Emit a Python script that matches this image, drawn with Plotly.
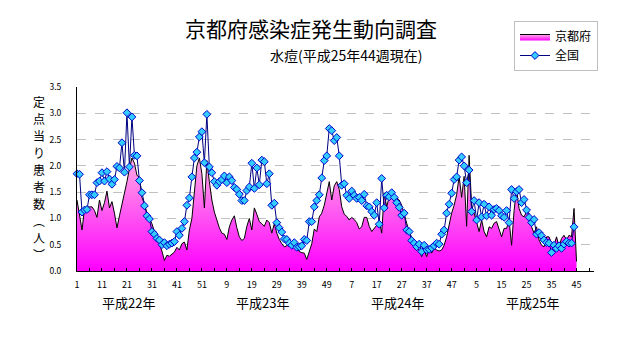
import numpy as np
import plotly.graph_objects as go

# ---- data (weekly per-sentinel counts) ----
year_labels = ["平成22年", "平成23年", "平成24年", "平成25年"]
x_tick_labels = ["1", "11", "21", "31", "41", "51", "9", "19", "29", "39", "49",
                 "7", "17", "27", "37", "47", "5", "15", "25", "35", "45"]
y_title_chars = list("定点当り患者数︵人︶")

kyoto_h22 = [1.35, 1.05, 0.78, 1.18, 1.22, 1.22, 1.22, 1.15, 1.02, 1.35,
             1.15, 1.30, 1.52, 1.20, 1.32, 1.10, 0.82, 1.05, 1.25, 1.45,
             1.70, 1.95, 2.15, 2.05, 1.82, 1.78, 1.40, 1.28, 1.10, 1.00,
             0.90, 0.75, 0.62, 0.50, 0.38, 0.20, 0.30, 0.28, 0.32, 0.36,
             0.45, 0.40, 0.52, 0.55, 0.40, 0.78, 1.00, 1.55, 2.00, 2.15,
             1.85, 1.20]
kyoto_h23 = [2.10, 1.70, 1.35, 1.12, 0.95, 0.82, 0.72, 0.70, 0.60, 0.84,
             0.97, 1.05, 0.82, 0.65, 0.58, 0.62, 0.85, 1.00, 0.78, 1.20,
             1.08, 0.94, 0.90, 0.85, 0.97, 0.92, 0.72, 0.90, 0.72, 0.60,
             0.52, 0.46, 0.48, 0.55, 0.52, 0.45, 0.42, 0.37, 0.35, 0.34,
             0.22, 0.36, 0.52, 0.80, 0.75, 1.03, 1.10, 1.25, 1.45, 1.70,
             1.35, 1.62]
kyoto_h24 = [1.70, 1.55, 1.22, 1.08, 1.04, 0.97, 1.02, 0.98, 0.92, 0.80,
             0.84, 1.02, 1.02, 0.85, 0.75, 0.82, 0.87, 0.97, 0.72, 1.48,
             1.22, 1.41, 1.38, 1.44, 1.40, 1.35, 1.25, 1.10, 0.91, 0.75,
             0.62, 0.53, 0.45, 0.40, 0.27, 0.40, 0.27, 0.43, 0.34, 0.43,
             0.40, 0.38, 0.40, 0.49, 0.65, 0.91, 1.10, 1.25, 1.45, 1.80,
             1.40, 1.80]
kyoto_h25 = [0.85, 2.20, 1.25, 1.10, 0.91, 0.75, 0.97, 0.75, 0.65, 0.84,
             0.81, 0.91, 0.94, 0.81, 0.65, 0.81, 0.81, 0.97, 0.49, 1.15,
             1.55, 1.19, 1.06, 1.03, 1.13, 1.10, 0.84, 0.72, 0.84, 0.59,
             0.49, 0.46, 0.65, 0.65, 0.53, 0.49, 0.65, 0.46, 0.62, 0.68,
             0.59, 0.68, 0.65, 1.19, 0.18]

national_h22 = [1.85, 1.84, 1.12, 1.16, 1.17, 1.45, 1.45, 1.45, 1.68, 1.71,
                1.87, 1.71, 1.89, 1.75, 1.65, 1.74, 1.99, 1.96, 2.44, 1.88,
                3.01, 1.98, 2.93, 2.20, 2.19, 1.72, 1.49, 1.24, 1.05, 0.99,
                0.75, 0.70, 0.62, 0.59, 0.50, 0.54, 0.48, 0.51, 0.53, 0.56,
                0.75, 0.68, 0.81, 0.94, 1.25, 1.39, 1.79, 2.15, 2.26, 2.55,
                2.65, 2.06]
national_h23 = [2.98, 1.98, 1.87, 1.70, 1.63, 1.70, 1.74, 1.81, 1.68, 1.79,
                1.72, 1.59, 1.55, 1.46, 1.34, 1.34, 1.53, 1.60, 2.05, 1.57,
                1.96, 1.64, 2.11, 2.08, 1.66, 1.85, 1.25, 1.29, 0.92, 0.82,
                0.74, 0.61, 0.60, 0.53, 0.49, 0.54, 0.45, 0.46, 0.48, 0.60,
                0.58, 0.94, 0.94, 1.22, 1.34, 1.45, 1.77, 2.10, 2.19, 2.71,
                2.67, 2.48]
national_h24 = [2.54, 2.19, 1.63, 1.66, 1.44, 1.38, 1.52, 1.44, 1.38, 1.40,
                1.34, 1.46, 1.24, 1.22, 1.13, 1.06, 1.30, 0.89, 1.76, 1.20,
                1.44, 1.41, 1.49, 1.40, 1.30, 1.21, 1.06, 1.10, 0.78, 0.75,
                0.58, 0.53, 0.46, 0.51, 0.37, 0.49, 0.40, 0.41, 0.44, 0.48,
                0.53, 0.51, 0.70, 0.78, 1.10, 1.27, 1.48, 1.74, 1.79, 2.11,
                2.17, 2.00]
national_h25 = [1.68, 1.92, 1.13, 1.34, 0.97, 1.30, 1.03, 1.27, 1.05, 1.22,
                1.06, 1.17, 1.19, 1.15, 1.05, 1.02, 1.15, 0.92, 1.55, 1.38,
                1.51, 1.55, 1.30, 1.36, 1.16, 1.02, 0.92, 0.98, 0.70, 0.73,
                0.67, 0.59, 0.54, 0.53, 0.35, 0.49, 0.43, 0.48, 0.43, 0.51,
                0.56, 0.53, 0.53, 0.84]

weeks_per_year = 52
n_years = 4

kyoto = np.array(kyoto_h22 + kyoto_h23 + kyoto_h24 + kyoto_h25)
national = np.array(national_h22 + national_h23 + national_h24 + national_h25)
x_k = np.arange(1, len(kyoto) + 1)
x_n = np.arange(1, len(national) + 1)

FONT = "Noto Sans CJK JP"

fig = go.Figure()
fig.add_trace(go.Scatter(
    x=x_k, y=kyoto, name="京都府", mode="lines",
    line=dict(color="black", width=1),
    fill="tozeroy", fillcolor="#FF88E4",
    fillgradient=dict(type="vertical", start=0, stop=2.2,
                      colorscale=[[0, "#FF00FF"], [1, "#FFB0E4"]]),
))
fig.add_trace(go.Scatter(
    x=x_n, y=national, name="全国", mode="lines+markers",
    line=dict(color="#000080", width=1),
    marker=dict(symbol="diamond", size=6, color="#33CCFF",
                line=dict(color="#0000CC", width=1)),
    cliponaxis=False,
))

tickvals = list(range(1, weeks_per_year * n_years + 1, 10))[:len(x_tick_labels)]

L, R, T, B = 77, 38, 87, 77
W, H = 632, 348
pw, ph = W - L - R, H - T - B


def px(xp):
    return (xp - L) / pw


def py(yp):
    return (H - B - yp) / ph


year_pos = [21.8, 75.1, 129.3, 183.3]

annotations = [
    dict(text="京都府感染症発生動向調査", x=px(311), y=py(28), xref="paper", yref="paper",
         xanchor="center", yanchor="middle",
         showarrow=False, font=dict(size=21, color="black", family=FONT)),
    dict(text="水痘(平成25年44週現在)", x=px(346), y=py(55), xref="paper", yref="paper",
         xanchor="center", yanchor="middle",
         showarrow=False, font=dict(size=14, color="black", family=FONT)),
]
for k, ch in enumerate(y_title_chars):
    annotations.append(dict(text=ch, x=px(39), y=py(101 + 17 * k), xref="paper", yref="paper",
                            xanchor="center", yanchor="middle", showarrow=False,
                            font=dict(size=12, color="black", family=FONT)))
for lbl, xp in zip(year_labels, year_pos):
    annotations.append(dict(text=lbl, x=xp, y=py(302), xref="x", yref="paper",
                            xanchor="center", yanchor="middle",
                            showarrow=False, font=dict(size=13, color="black", family=FONT)))

fig.update_layout(
    width=W, height=H,
    margin=dict(l=L, r=R, t=T, b=B, autoexpand=False),
    paper_bgcolor="white", plot_bgcolor="white",
    font=dict(family=FONT, color="black"),
    showlegend=True,
    legend=dict(xref="container", yref="container", x=514 / W, y=1 - 21 / H,
                xanchor="left", yanchor="top", bordercolor="#BFBFBF", borderwidth=1,
                bgcolor="white", font=dict(size=12, family=FONT), itemwidth=30,
                tracegroupgap=0),
    xaxis=dict(range=[1, weeks_per_year * n_years], tickmode="array",
               tickvals=tickvals, ticktext=x_tick_labels,
               ticks="inside", ticklen=3, tickcolor="black",
               showline=True, linecolor="black", linewidth=1,
               showgrid=False, zeroline=False, automargin=False,
               tickfont=dict(size=9, family=FONT), ticklabelstandoff=5,
               minor=dict(tickmode="linear", tick0=1, dtick=5, ticks="inside",
                          ticklen=3, tickcolor="black", showgrid=False)),
    yaxis=dict(range=[0, 3.5], tickmode="linear", tick0=0, dtick=0.5, tickformat=".1f",
               showgrid=True, gridcolor="#C0C0C0", griddash="dash", gridwidth=1,
               showline=True, linecolor="black", linewidth=1, zeroline=False,
               automargin=False,
               ticks="", tickfont=dict(size=8.5, family=FONT), ticklabelstandoff=13),
    annotations=annotations,
)

fig.write_html("out.html")
